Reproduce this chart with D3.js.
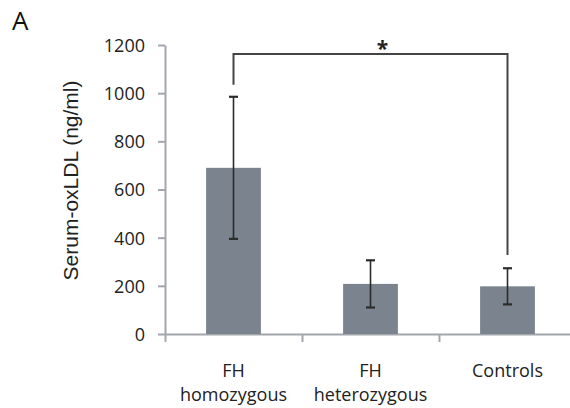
<!DOCTYPE html>
<html>
<head>
<meta charset="utf-8">
<script src="https://cdn.jsdelivr.net/npm/d3@7"></script>
<style>
  body { margin: 0; background: #fff; }
  svg { display: block; }
  .axis path, .axis line { stroke: #a2a6ac; stroke-width: 2; }
  .axis text { fill: #222; font-family: "Open Sans", sans-serif; font-size: 18px; }
</style>
</head>
<body>
<div id="bar"></div>
<script>
const SVG_WIDTH = 570;
const SVG_HEIGHT = 408;
const MARGIN = { TOP: 45, RIGHT: -6, LEFT: 165, BOTTOM: 74 }

// data
const categories = ["FH homozygous", "FH heterozygous", "Controls"];
const labelLines = [["FH", "homozygous"], ["FH", "heterozygous"], ["Controls"]];
const means = [690, 208, 198];
const errors = [295, 98, 75];
const yTicks = [0, 200, 400, 600, 800, 1000, 1200];
// significance bracket: between categories 0 and 2
const sigPair = [0, 2];
const bracketTop = 1163;
const bracketLegEnds = [1035, 328];
const sigLabel = "*";

var svg = d3.select("#bar").append("svg")
    .attr("width", SVG_WIDTH)
    .attr("height", SVG_HEIGHT);

const plotBottom = SVG_HEIGHT - MARGIN.BOTTOM;   // 334
const plotRight = SVG_WIDTH - MARGIN.RIGHT;

// band scale for the bars
const xScale = d3.scaleBand()
    .domain(categories)
    .range([MARGIN.LEFT, plotRight])
    .paddingInner(0.6)
    .paddingOuter(0.3);

// boundaries between the bands (for the x axis ticks)
const edgeScale = d3.scaleLinear()
    .domain([0, categories.length])
    .range([MARGIN.LEFT, plotRight]);

const yScale = d3.scaleLinear()
    .domain([0, 1200])
    .range([plotBottom, MARGIN.TOP]);

// y axis
svg.append("g")
    .attr("class", "axis")
    .attr("transform", `translate(${MARGIN.LEFT},0)`)
    .call(d3.axisLeft(yScale).tickValues(yTicks).tickFormat(d3.format("d"))
        .tickSize(7).tickSizeOuter(0).tickPadding(13))
    .call(g => g.selectAll("text").attr("dy", "0.36em"));

// x axis (ticks only at band edges)
svg.append("g")
    .attr("class", "axis")
    .attr("transform", `translate(0,${plotBottom})`)
    .call(d3.axisBottom(edgeScale).tickValues(d3.range(categories.length + 1))
        .tickSize(8).tickSizeOuter(0).tickFormat(""));

// bars
svg.selectAll("rect.bar")
    .data(means)
    .enter()
    .append("rect")
    .classed("bar", true)
    .attr("x", (d, i) => xScale(categories[i]))
    .attr("y", d => yScale(d))
    .attr("width", xScale.bandwidth())
    .attr("height", d => plotBottom - yScale(d))
    .attr("fill", "#7b838e");

// error bars
const errG = svg.append("g")
    .attr("stroke", "#2b2b2b")
    .attr("stroke-width", 1.6);

means.forEach(function (m, i) {
    const cx = xScale(categories[i]) + xScale.bandwidth() / 2;
    errG.append("line")
        .attr("x1", cx).attr("x2", cx)
        .attr("y1", yScale(m + errors[i])).attr("y2", yScale(m - errors[i]));
    [m + errors[i], m - errors[i]].forEach(function (v) {
        errG.append("line")
            .attr("x1", cx - 4.5).attr("x2", cx + 4.5)
            .attr("y1", yScale(v)).attr("y2", yScale(v))
            .attr("stroke-width", 2.2);
    });
});

// significance bracket
const bx0 = xScale(categories[sigPair[0]]) + xScale.bandwidth() / 2;
const bx1 = xScale(categories[sigPair[1]]) + xScale.bandwidth() / 2;
svg.append("path")
    .attr("d", `M${bx0},${yScale(bracketLegEnds[0])}V${yScale(bracketTop)}H${bx1}V${yScale(bracketLegEnds[1])}`)
    .attr("fill", "none")
    .attr("stroke", "#444")
    .attr("stroke-width", 2);

svg.append("text")
    .attr("x", (bx0 + bx1) / 2 + 12)
    .attr("y", yScale(bracketTop) + 2)
    .attr("text-anchor", "middle")
    .style("font-family", "'Open Sans', sans-serif")
    .style("font-size", "21px")
    .style("font-weight", "bold")
    .attr("fill", "#222")
    .text(sigLabel);

// category labels
const catG = svg.append("g")
    .style("font-family", "'Open Sans', sans-serif")
    .style("font-size", "18px")
    .attr("fill", "#222")
    .attr("text-anchor", "middle");

labelLines.forEach(function (lines, i) {
    const cx = xScale(categories[i]) + xScale.bandwidth() / 2;
    lines.forEach(function (t, j) {
        catG.append("text")
            .attr("x", cx)
            .attr("y", 377 + j * 24)
            .text(t);
    });
});

// y axis title
svg.append("text")
    .attr("transform", `translate(78,${(yScale(0) + yScale(1200)) / 2 - 9}) rotate(-90)`)
    .attr("text-anchor", "middle")
    .style("font-family", "'Liberation Sans', Arial, sans-serif")
    .style("font-size", "21px")
    .attr("fill", "#222")
    .text("Serum-oxLDL (ng/ml)");

// panel letter
svg.append("text")
    .attr("x", 12)
    .attr("y", 30)
    .style("font-family", "'Open Sans', sans-serif")
    .style("font-size", "26px")
    .attr("fill", "#111")
    .text("A");
</script>
</body>
</html>
